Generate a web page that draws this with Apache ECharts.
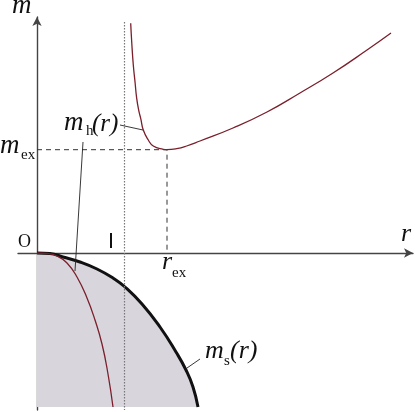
<!DOCTYPE html>
<html><head><meta charset="utf-8">
<script src="https://cdn.jsdelivr.net/npm/echarts@6/dist/echarts.min.js"></script>
<style>html,body{margin:0;padding:0;background:#fff}#c{width:415px;height:412px}</style>
</head><body><div id="c"></div>
<script>
// ---- data (arbitrary units) ----
const mhUpperR = [9.37, 9.47, 9.63, 9.8, 9.97, 10.2, 10.37, 10.63, 11.13, 11.63, 12.63, 12.97, 13.97, 14.97, 16.3, 19.6, 23.0, 26.3, 29.6, 33.0, 35.4];
const mhUpperM = [22.97, 21.13, 18.8, 17.13, 15.47, 14.13, 13.47, 12.3, 11.3, 10.7, 10.37, 10.33, 10.43, 10.7, 11.2, 12.5, 14.1, 16.0, 18.0, 20.3, 22.0];
const mhLowerR = [0, 1.0, 2.0, 3.0, 4.0, 5.0, 5.8, 6.5, 7.1, 7.6];
const mhLowerM = [0, -0.05, -0.3, -1.0, -2.4, -4.5, -6.7, -9.1, -12.1, -15.4];
const msR = [0, 1.3, 2.6, 4.3, 6.0, 7.6, 8.8, 10.5, 12.3, 13.9, 14.9, 15.6, 16.1];
const msM = [0, -0.05, -0.4, -0.9, -1.6, -2.5, -3.4, -5.1, -7.4, -9.9, -11.7, -13.4, -15.4];
const axisRRange = [-1.9, 37.6];
const axisMRange = [-15.7, 23.6];
const exPoint = [13.0, 10.33];          // (r_ex, m_ex)
const asymptoteR = [8.75];
const asymptoteM = [23.1, -15.7];
const markR = [7.4];
const markM = [0.5, 2.0];
const fillBottom = -15.4;
const leaderUpper = [[8.3, 12.8], [10.6, 12.3]];
const leaderLower = [[4.6, 11.1], [3.8, -1.8]];
const leaderMs = [[15.0, -11.5], [16.3, -10.6]];

const zip = (a, b) => a.map((v, i) => [v, b[i]]);
const RED = '#7a1f2b';

function txt(str, x, baseline, size, italic) {
  return {
    type: 'text', x: x, y: baseline - 0.32 * size, silent: true,
    style: {
      text: str, fill: '#111',
      fontFamily: 'Liberation Serif', fontSize: size,
      fontStyle: italic ? 'italic' : 'normal',
      align: 'left', verticalAlign: 'middle'
    }
  };
}

const axisCommon = {
  type: 'value',
  axisLine: { onZero: true, symbol: ['none', 'arrow'], symbolSize: [7, 9],
              lineStyle: { color: '#444', width: 1.4 } },
  axisTick: { show: false }, axisLabel: { show: false }, splitLine: { show: false }
};

const chart = echarts.init(document.getElementById('c'), null, { renderer: 'canvas' });
chart.setOption({
  animation: false,
  grid: { left: 18, right: 2, top: 17, bottom: 2 },
  xAxis: Object.assign({}, axisCommon, { min: axisRRange[0], max: axisRRange[1] }),
  yAxis: Object.assign({}, axisCommon, { min: axisMRange[0], max: axisMRange[1] }),
  series: [
    { type: 'line', data: zip(msR, msM), smooth: 0.5, showSymbol: false,
      lineStyle: { color: '#111', width: 3 },
      areaStyle: { color: '#d8d5dc', opacity: 1, origin: fillBottom }, z: 2 },
    { type: 'line', data: zip(asymptoteR.concat(asymptoteR), asymptoteM), showSymbol: false,
      lineStyle: { color: '#777', width: 1.2, type: [1.5, 1.5] }, z: 3 },
    { type: 'line', data: [[0, exPoint[1]], exPoint, [exPoint[0], 0]], showSymbol: false,
      lineStyle: { color: '#333', width: 1, type: [5, 4] }, z: 3 },
    { type: 'line', data: zip(mhLowerR, mhLowerM), smooth: 0.5, showSymbol: false,
      lineStyle: { color: RED, width: 1.3 }, z: 4 },
    { type: 'line', data: zip(mhUpperR, mhUpperM), smooth: 0.5, showSymbol: false,
      lineStyle: { color: RED, width: 1.3 }, z: 4 },
    { type: 'line', data: zip(markR.concat(markR), markM), showSymbol: false,
      lineStyle: { color: '#111', width: 2 }, z: 4 },
    { type: 'line', data: leaderUpper, showSymbol: false, lineStyle: { color: '#222', width: 0.9 }, z: 5 },
    { type: 'line', data: leaderLower, showSymbol: false, lineStyle: { color: '#222', width: 0.9 }, z: 5 },
    { type: 'line', data: leaderMs, showSymbol: false, lineStyle: { color: '#222', width: 0.9 }, z: 5 }
  ],
  graphic: [
    txt('m', 12, 15, 27, true),
    txt('r', 401, 242, 26, true),
    txt('O', 18, 248, 18, false),
    txt('m', 0, 155, 27, true), txt('ex', 21, 160, 15, false),
    txt('r', 162, 270, 26, true), txt('ex', 172, 278, 15, false),
    txt('m', 64, 132, 27, true), txt('h', 86, 136, 15, false), txt('(r)', 92, 132, 25, true),
    txt('m', 205, 359, 26, true), txt('s', 224, 366, 15, false), txt('(r)', 230, 359, 26, true)
  ]
});
</script></body></html>
